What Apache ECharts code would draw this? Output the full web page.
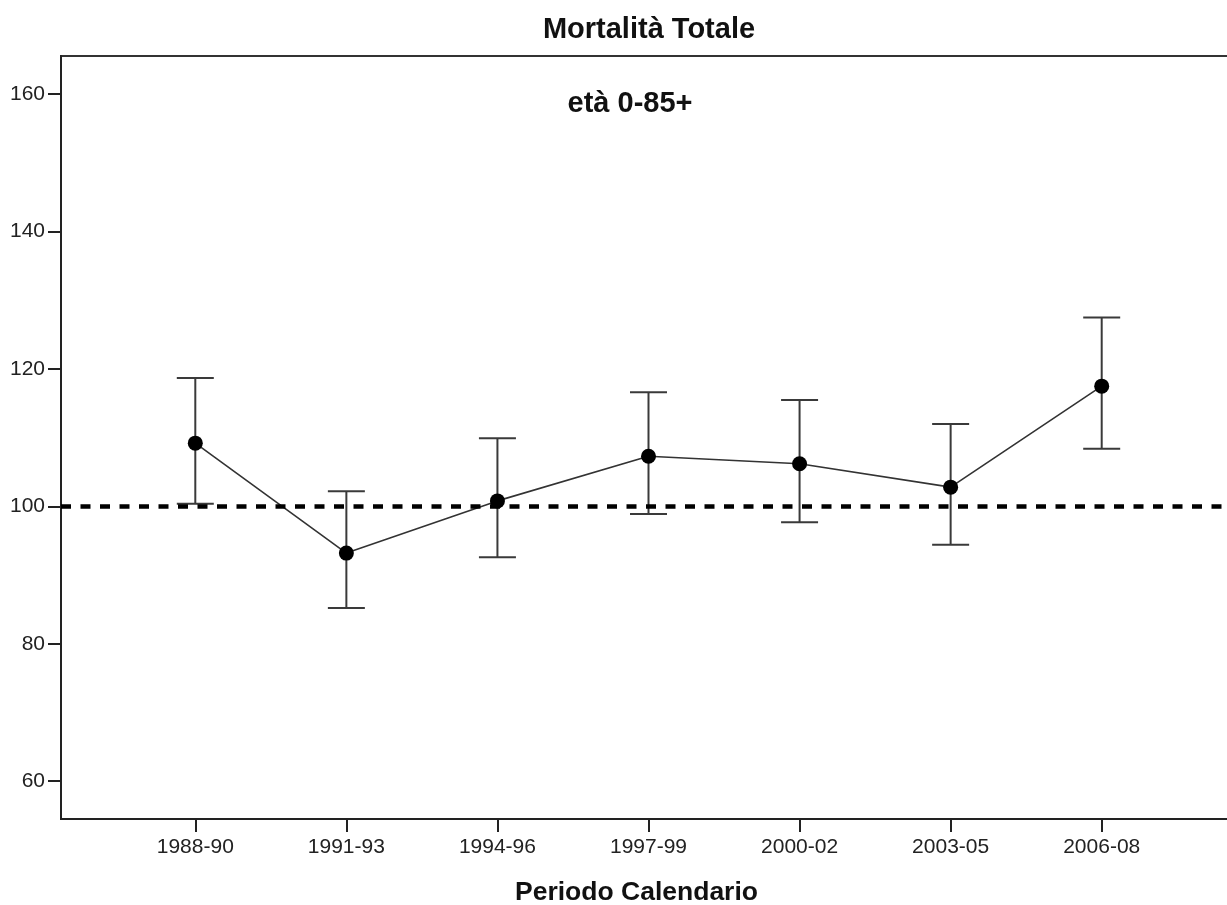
<!DOCTYPE html>
<html>
<head>
<meta charset="utf-8">
<script src="https://cdn.jsdelivr.net/npm/echarts@6/dist/echarts.min.js"></script>
<style>
  html, body { margin: 0; padding: 0; background: #fff; }
  #chart { width: 1227px; height: 905px; }
</style>
</head>
<body>
<div id="chart"></div>
<script>
// periods and standardised mortality ratios with 95% CI
var periods = ['1988-90', '1991-93', '1994-96', '1997-99', '2000-02', '2003-05', '2006-08'];
var rate  = [109.2, 93.2, 100.8, 107.3, 106.2, 102.8, 117.5];
var upper = [118.7, 102.2, 109.9, 116.6, 115.5, 112.0, 127.5];
var lower = [100.4, 85.2, 92.6, 98.9, 97.7, 94.4, 108.4];
var yTicks = [60, 80, 100, 120, 140, 160];
var reference = 100;

var xIdx = periods.map(function (p, i) { return i; });
var points = rate.map(function (v, i) { return [i, v]; });
var bars = rate.map(function (v, i) { return [i, upper[i], lower[i]]; });

var font = 'Liberation Sans, Arial, sans-serif';
var myChart = echarts.init(document.getElementById('chart'));

var option = {
    backgroundColor: '#fff',
    animation: false,
    title: [{
        text: 'Mortalità Totale',
        left: 649,
        top: 15,
        textAlign: 'center',
        padding: 0,
        textStyle: { fontFamily: font, fontSize: 29, fontWeight: 'bold', color: '#111' }
    }, {
        text: 'età 0-85+',
        left: 630,
        top: 89,
        textAlign: 'center',
        padding: 0,
        textStyle: { fontFamily: font, fontSize: 29, fontWeight: 'bold', color: '#111' }
    }],
    grid: {
        left: 61,
        right: -9,
        top: 56,
        bottom: 86,
        show: true,
        borderColor: '#333',
        borderWidth: 2,
        outerBoundsMode: 'none'
    },
    xAxis: {
        type: 'value',
        min: -0.889,
        max: 6.889,
        name: 'Periodo Calendario',
        nameLocation: 'middle',
        nameGap: 60,
        nameTextStyle: {
            fontFamily: font, fontSize: 26.5, fontWeight: 'bold', color: '#111',
            padding: [0, 24, 0, 0]
        },
        splitLine: { show: false },
        axisLine: { onZero: false, lineStyle: { color: '#222', width: 2 } },
        axisTick: {
            customValues: xIdx,
            length: 13,
            lineStyle: { color: '#222', width: 2 }
        },
        axisLabel: {
            customValues: xIdx,
            margin: 18,
            fontFamily: font,
            fontSize: 21,
            color: '#222',
            formatter: function (v) { return periods[Math.round(v)]; }
        }
    },
    yAxis: {
        type: 'value',
        min: 54.5,
        max: 165.55,
        splitLine: { show: false },
        axisLine: { show: true, onZero: false, lineStyle: { color: '#222', width: 2 } },
        axisTick: {
            show: true,
            customValues: yTicks,
            length: 13,
            lineStyle: { color: '#222', width: 2 }
        },
        axisLabel: {
            customValues: yTicks,
            margin: 16,
            fontFamily: font,
            fontSize: 21,
            color: '#222'
        }
    },
    series: [{
        name: 'ci',
        type: 'custom',
        data: bars,
        z: 2,
        renderItem: function (params, api) {
            var x = api.value(0);
            var hi = api.coord([x, api.value(1)]);
            var lo = api.coord([x, api.value(2)]);
            var w = 18.5;
            var style = { stroke: '#3a3a3a', lineWidth: 2 };
            return {
                type: 'group',
                children: [
                    { type: 'line', shape: { x1: hi[0], y1: hi[1], x2: lo[0], y2: lo[1] }, style: style },
                    { type: 'line', shape: { x1: hi[0] - w, y1: hi[1], x2: hi[0] + w, y2: hi[1] }, style: style },
                    { type: 'line', shape: { x1: lo[0] - w, y1: lo[1], x2: lo[0] + w, y2: lo[1] }, style: style }
                ]
            };
        }
    }, {
        name: 'rate',
        type: 'line',
        data: points,
        z: 3,
        symbol: 'circle',
        symbolSize: 15,
        itemStyle: { color: '#000' },
        lineStyle: { color: '#333', width: 1.6 },
        markLine: {
            silent: true,
            symbol: 'none',
            label: { show: false },
            lineStyle: { color: '#000', width: 4.5, type: [10, 9.5] },
            data: [{ yAxis: reference }]
        }
    }]
};

myChart.setOption(option);
</script>
</body>
</html>
